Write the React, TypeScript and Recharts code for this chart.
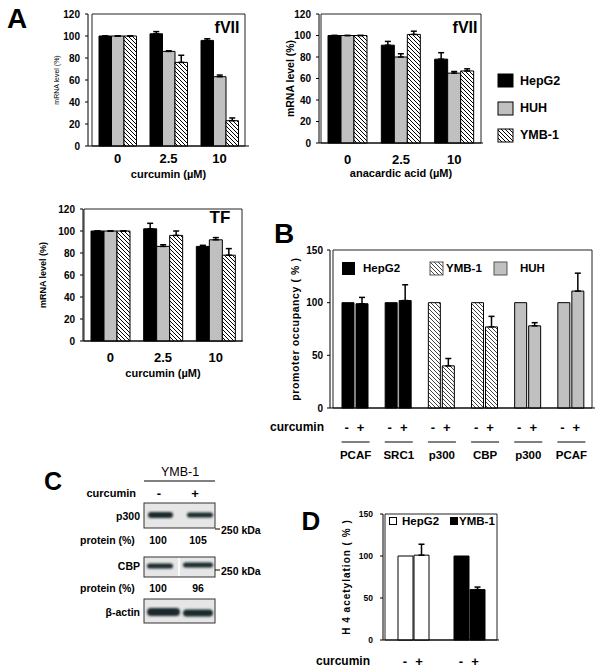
import { Bar, BarChart, Cell, ErrorBar, ReferenceArea, XAxis, YAxis } from "recharts"

const FONT = '"Liberation Sans", Arial, Helvetica, sans-serif'
const GRAY = "#c0c0c0"

// ---- Panel A: mRNA level (%) by dose, three cell lines
const DOSES = ["0", "2.5", "10"]
const CELL_LINES = ["HepG2", "HUH", "YMB-1"]

const FVII_CUR_HEPG2 = [100, 102, 96]
const FVII_CUR_HEPG2_ERR = [0, 2, 1.5]
const FVII_CUR_HUH = [100, 86, 63]
const FVII_CUR_HUH_ERR = [0, 0.5, 1.5]
const FVII_CUR_YMB = [100, 76, 23]
const FVII_CUR_YMB_ERR = [0, 6.5, 2.5]

const FVII_ANA_HEPG2 = [100, 91, 78]
const FVII_ANA_HEPG2_ERR = [0, 3.5, 6]
const FVII_ANA_HUH = [100, 80, 65]
const FVII_ANA_HUH_ERR = [0, 3, 1.5]
const FVII_ANA_YMB = [100, 101, 67]
const FVII_ANA_YMB_ERR = [0, 3, 2]

const TF_CUR_HEPG2 = [100, 102, 86]
const TF_CUR_HEPG2_ERR = [0, 5, 1]
const TF_CUR_HUH = [100, 86, 92]
const TF_CUR_HUH_ERR = [0, 1.5, 2]
const TF_CUR_YMB = [100, 96, 78]
const TF_CUR_YMB_ERR = [0, 4, 6]

const MRNA_TICKS = [0, 20, 40, 60, 80, 100, 120]

// ---- Panel B: promoter occupancy (%)
const B_TARGETS = ["PCAF", "SRC1", "p300", "CBP", "p300", "PCAF"]
const B_CELL = ["HepG2", "HepG2", "YMB-1", "YMB-1", "HUH", "HUH"]
const B_MINUS = [100, 100, 100, 100, 100, 100]
const B_PLUS = [99, 102, 40, 77, 78, 111]
const B_PLUS_ERR = [6, 15, 7, 10, 3, 17]

// ---- Panel D: H4 acetylation (%)
const D_CELLS = ["HepG2", "YMB-1"]
const D_MINUS = [100, 100]
const D_PLUS = [101, 60]
const D_PLUS_ERR = [13, 3]

const OCC_TICKS = [0, 50, 100, 150]

// ---- Panel C: western blot read-outs
const BLOT_P300 = ["100", "105"]
const BLOT_CBP = ["100", "96"]

function doseRows(
  hep: number[], hepErr: number[],
  huh: number[], huhErr: number[],
  ymb: number[], ymbErr: number[],
) {
  return DOSES.map((dose, i) => ({
    dose,
    hep: hep[i], hepErr: [0, hepErr[i]],
    huh: huh[i], huhErr: [0, huhErr[i]],
    ymb: ymb[i], ymbErr: [0, ymbErr[i]],
  }))
}

const fviiCurcumin = doseRows(FVII_CUR_HEPG2, FVII_CUR_HEPG2_ERR, FVII_CUR_HUH, FVII_CUR_HUH_ERR, FVII_CUR_YMB, FVII_CUR_YMB_ERR)
const fviiAnacardic = doseRows(FVII_ANA_HEPG2, FVII_ANA_HEPG2_ERR, FVII_ANA_HUH, FVII_ANA_HUH_ERR, FVII_ANA_YMB, FVII_ANA_YMB_ERR)
const tfCurcumin = doseRows(TF_CUR_HEPG2, TF_CUR_HEPG2_ERR, TF_CUR_HUH, TF_CUR_HUH_ERR, TF_CUR_YMB, TF_CUR_YMB_ERR)

const occupancy = B_TARGETS.map((target, i) => ({
  target, cell: B_CELL[i], minus: B_MINUS[i], plus: B_PLUS[i], plusErr: [0, B_PLUS_ERR[i]],
}))

const acetylation = D_CELLS.map((cell, i) => ({
  cell, minus: D_MINUS[i], plus: D_PLUS[i], plusErr: [0, D_PLUS_ERR[i]],
}))

function Hatch({ id, color }: { id: string; color: string }) {
  return (
    <pattern id={id} width={4} height={4} patternUnits="userSpaceOnUse">
      <rect width={4} height={4} fill="#fff" />
      <path d="M-1,-1 L5,5 M-1,3 L1,5 M3,-1 L5,1" stroke={color} strokeWidth={1} />
    </pattern>
  )
}

const bold = (size: number, extra: Record<string, unknown> = {}) => ({
  fill: "#000", fontSize: size, fontWeight: 700, fontFamily: FONT, ...extra,
})

type DoseProps = {
  id: string
  data: ReturnType<typeof doseRows>
  left: number
  top: number
  width: number
  height: number
  axisWidth: number
  right: number
  axisHeight: number
  pad: number
  barSize: number
  tickGap: number
  xLabel: string
  xLabelOffset: number
  yLabel: string
  yLabelSize: number
  yLabelOffset: number
  yLabelBold: boolean
}

function DosePanel(p: DoseProps) {
  const hatch = `hatch-${p.id}`
  return (
    <div style={{ position: "absolute", left: p.left, top: p.top }}>
      <BarChart
        width={p.width}
        height={p.height}
        data={p.data}
        margin={{ top: 14, right: p.right, bottom: 0, left: 0 }}
        barGap={0}
        barSize={p.barSize}
      >
        <defs>
          <Hatch id={hatch} color="#000" />
        </defs>
        <XAxis
          dataKey="dose"
          height={p.axisHeight}
          padding={{ left: p.pad, right: p.pad }}
          tickLine={false}
          tickSize={0}
          tickMargin={p.tickGap}
          axisLine={{ stroke: "#000" }}
          tick={bold(13)}
          label={{ value: p.xLabel, position: "insideBottom", offset: p.xLabelOffset, style: bold(11, { textAnchor: "middle" }) }}
        />
        <YAxis
          width={p.axisWidth}
          domain={[0, 120]}
          ticks={MRNA_TICKS}
          interval={0}
          tickSize={3}
          tickMargin={5}
          axisLine={{ stroke: "#000" }}
          tickLine={{ stroke: "#000" }}
          tick={bold(10)}
          label={{
            value: p.yLabel,
            angle: -90,
            position: "insideLeft",
            offset: p.yLabelOffset,
            style: { textAnchor: "middle", fill: "#000", fontSize: p.yLabelSize, fontWeight: p.yLabelBold ? 700 : 400, fontFamily: FONT },
          }}
        />
        <ReferenceArea y1={0} y2={120} fill="none" stroke="#222" strokeWidth={1} ifOverflow="visible" />
        <Bar dataKey="hep" name={CELL_LINES[0]} fill="#000" stroke="#000" isAnimationActive={false}>
          <ErrorBar dataKey="hepErr" width={3} stroke="#000" direction="y" />
        </Bar>
        <Bar dataKey="huh" name={CELL_LINES[1]} fill={GRAY} stroke="#000" isAnimationActive={false}>
          <ErrorBar dataKey="huhErr" width={3} stroke="#000" direction="y" />
        </Bar>
        <Bar dataKey="ymb" name={CELL_LINES[2]} fill={`url(#${hatch})`} stroke="#000" isAnimationActive={false}>
          <ErrorBar dataKey="ymbErr" width={3} stroke="#000" direction="y" />
        </Bar>
      </BarChart>
    </div>
  )
}

function TreatTick({ x, y, payload, withName }: { x?: number; y?: number; payload?: { value: string }; withName: boolean }) {
  const cx = x ?? 0
  const cy = y ?? 0
  return (
    <g fontFamily={FONT} fontWeight={700} fill="#000">
      <text x={cx - 8} y={cy + 19} fontSize={13} textAnchor="middle" dominantBaseline="central">-</text>
      <text x={cx + 6} y={cy + 19} fontSize={13} textAnchor="middle" dominantBaseline="central">+</text>
      {withName ? (
        <>
          <line x1={cx - 13} x2={cx + 15} y1={cy + 34} y2={cy + 34} stroke="#000" strokeWidth={1} />
          <text x={cx + 1} y={cy + 47} fontSize={11.5} textAnchor="middle" dominantBaseline="central">
            {payload?.value}
          </text>
        </>
      ) : null}
    </g>
  )
}

const B_FILL: Record<string, string> = { HepG2: "#000", "YMB-1": "url(#hatch-b)", HUH: GRAY }
const D_FILL: Record<string, string> = { HepG2: "#fff", "YMB-1": "#000" }

function OccupancyPanel() {
  return (
    <div style={{ position: "absolute", left: 260, top: 240 }}>
      <BarChart width={340} height={230} data={occupancy} margin={{ top: 10, right: 5, bottom: 0, left: 0 }} barGap={2} barSize={12}>
        <defs>
          <Hatch id="hatch-b" color="#444" />
        </defs>
        <XAxis
          dataKey="target"
          height={62}
          padding={{ left: 3, right: 3 }}
          tickLine={false}
          tickSize={0}
          tickMargin={0}
          interval={0}
          axisLine={{ stroke: "#000" }}
          tick={(props: any) => <TreatTick {...props} withName />}
        />
        <YAxis
          width={70}
          domain={[0, 150]}
          ticks={OCC_TICKS}
          interval={0}
          tickSize={3}
          tickMargin={4}
          axisLine={{ stroke: "#000" }}
          tickLine={{ stroke: "#000" }}
          tick={bold(10)}
          label={{
            value: "promoter occupancy ( % )",
            angle: -90,
            position: "insideLeft",
            offset: 35,
            style: { textAnchor: "middle", fill: "#000", fontSize: 10.5, fontWeight: 700, fontFamily: FONT, letterSpacing: 0.6 },
          }}
        />
        <ReferenceArea y1={0} y2={150} fill="none" stroke="#222" strokeWidth={1} ifOverflow="visible" />
        <Bar dataKey="minus" stroke="#000" isAnimationActive={false}>
          {occupancy.map((row, i) => (
            <Cell key={i} fill={B_FILL[row.cell]} />
          ))}
        </Bar>
        <Bar dataKey="plus" stroke="#000" isAnimationActive={false}>
          {occupancy.map((row, i) => (
            <Cell key={i} fill={B_FILL[row.cell]} />
          ))}
          <ErrorBar dataKey="plusErr" width={3} stroke="#000" direction="y" />
        </Bar>
      </BarChart>
    </div>
  )
}

function AcetylationPanel() {
  return (
    <div style={{ position: "absolute", left: 300, top: 500 }}>
      <BarChart width={205} height={168} data={acetylation} margin={{ top: 14, right: 6, bottom: 0, left: 0 }} barGap={1} barSize={15}>
        <XAxis
          dataKey="cell"
          height={28}
          padding={{ left: 2, right: 2 }}
          tickLine={false}
          tickSize={0}
          tickMargin={2}
          interval={0}
          axisLine={{ stroke: "#000" }}
          tick={(props: any) => <TreatTick {...props} withName={false} />}
        />
        <YAxis
          width={83}
          domain={[0, 150]}
          ticks={OCC_TICKS}
          interval={0}
          tickSize={3}
          tickMargin={7}
          axisLine={{ stroke: "#000" }}
          tickLine={{ stroke: "#000" }}
          tick={bold(8.5)}
          label={{
            value: "H 4 acetylation ( % )",
            angle: -90,
            position: "insideLeft",
            offset: 46,
            style: { textAnchor: "middle", fill: "#000", fontSize: 10, fontWeight: 700, fontFamily: FONT, letterSpacing: 1 },
          }}
        />
        <ReferenceArea y1={0} y2={150} fill="none" stroke="#222" strokeWidth={1} ifOverflow="visible" />
        <Bar dataKey="minus" stroke="#000" isAnimationActive={false}>
          {acetylation.map((row, i) => (
            <Cell key={i} fill={D_FILL[row.cell]} />
          ))}
        </Bar>
        <Bar dataKey="plus" stroke="#000" isAnimationActive={false}>
          {acetylation.map((row, i) => (
            <Cell key={i} fill={D_FILL[row.cell]} />
          ))}
          <ErrorBar dataKey="plusErr" width={3} stroke="#000" direction="y" />
        </Bar>
      </BarChart>
    </div>
  )
}

function T({ x, y, size = 11, anchor = "middle", weight = 700, children }: { x: number; y: number; size?: number; anchor?: string; weight?: number; children: React.ReactNode }) {
  return (
    <text x={x} y={y} fontSize={size} fontWeight={weight} textAnchor={anchor as any} dominantBaseline="central" fontFamily={FONT} fill="#000">
      {children}
    </text>
  )
}

function Band({ x, y, w, h }: { x: number; y: number; w: number; h: number }) {
  return <rect x={x} y={y - h / 2} width={w} height={h} rx={h / 2} fill="#1d2c2e" filter="url(#blur)" />
}

// Blot panel C, plus panel letters, titles and legends
function Overlay() {
  return (
    <svg width={600} height={668} style={{ position: "absolute", left: 0, top: 0, pointerEvents: "none" }}>
      <defs>
        <Hatch id="hatch-legend" color="#000" />
        <Hatch id="hatch-legend-b" color="#444" />
        <filter id="blur" x="-20%" y="-50%" width="140%" height="200%">
          <feGaussianBlur stdDeviation={0.9} />
        </filter>
      </defs>

      <T x={17} y={18} size={28}>A</T>
      <T x={227} y={27} size={16}>fVII</T>
      <T x={465} y={27} size={16}>fVII</T>
      <T x={220} y={217} size={17}>TF</T>

      {/* panel A legend */}
      <rect x={498} y={74} width={15} height={13} fill="#000" stroke="#000" />
      <rect x={498} y={102} width={15} height={13} fill={GRAY} stroke="#000" />
      <rect x={498} y={129} width={15} height={13} fill="url(#hatch-legend)" stroke="#000" />
      <T x={520} y={81} size={12.5} anchor="start">{CELL_LINES[0]}</T>
      <T x={520} y={108} size={12.5} anchor="start">{CELL_LINES[1]}</T>
      <T x={520} y={135} size={12.5} anchor="start">{CELL_LINES[2]}</T>

      {/* panel B */}
      <T x={284} y={233} size={28}>B</T>
      <rect x={342} y={262} width={13} height={13} fill="#000" />
      <T x={363} y={268} size={11.5} anchor="start">HepG2</T>
      <rect x={430} y={262} width={13} height={13} fill="url(#hatch-legend-b)" stroke="#555" />
      <T x={446} y={268} size={11.5} anchor="start">YMB-1</T>
      <rect x={494} y={262} width={13} height={13} fill={GRAY} stroke="#555" />
      <T x={520} y={268} size={11.5} anchor="start">HUH</T>
      <T x={324} y={427} size={12} anchor="end">curcumin</T>

      {/* panel C */}
      <T x={53} y={481} size={25}>C</T>
      <T x={180} y={472} size={12.5} weight={400}>YMB-1</T>
      <line x1={144} x2={215} y1={481} y2={481} stroke="#000" />
      <T x={136} y={493} size={11} anchor="end">curcumin</T>
      <T x={159} y={493} size={13}>-</T>
      <T x={195} y={493} size={13}>+</T>

      <rect x={144} y={503} width={71} height={25} fill="#e6e6e6" stroke="#333" />
      <Band x={148} y={515} w={25} h={6} />
      <Band x={187} y={515} w={26} h={5} />
      <T x={140} y={516} size={10.5} anchor="end">p300</T>
      <line x1={215} x2={220} y1={529} y2={529} stroke="#000" />
      <T x={221} y={530} size={10.5} anchor="start">250 kDa</T>
      <T x={80} y={540} size={10.5} anchor="start">protein (%)</T>
      <T x={158} y={540} size={10.5}>{BLOT_P300[0]}</T>
      <T x={198} y={540} size={10.5}>{BLOT_P300[1]}</T>

      <rect x={144} y={557} width={71} height={20} fill="#e6e6e6" stroke="#333" />
      <line x1={179} x2={179} y1={558} y2={576} stroke="#fafafa" strokeWidth={2} />
      <Band x={147} y={566} w={26} h={5} />
      <Band x={183} y={565} w={30} h={5} />
      <T x={140} y={566} size={10.5} anchor="end">CBP</T>
      <line x1={215} x2={220} y1={570} y2={570} stroke="#000" />
      <T x={221} y={571} size={10.5} anchor="start">250 kDa</T>
      <T x={80} y={588} size={10.5} anchor="start">protein (%)</T>
      <T x={158} y={588} size={10.5}>{BLOT_CBP[0]}</T>
      <T x={198} y={588} size={10.5}>{BLOT_CBP[1]}</T>

      <rect x={144} y={599} width={71} height={24} fill="#e6e6e6" stroke="#333" />
      <Band x={147} y={612} w={33} h={8} />
      <Band x={183} y={613} w={30} h={7} />
      <T x={140} y={612} size={10.5} anchor="end">β-actin</T>

      {/* panel D */}
      <T x={311} y={521} size={26}>D</T>
      <rect x={389.5} y={517.5} width={7} height={7} fill="#fff" stroke="#000" />
      <T x={402} y={521} size={11.5} anchor="start">HepG2</T>
      <rect x={450} y={517} width={8} height={8} fill="#000" />
      <T x={459} y={521} size={11.5} anchor="start">YMB-1</T>
      <T x={370} y={661} size={12} anchor="end">curcumin</T>
    </svg>
  )
}

export default function App() {
  return (
    <div style={{ position: "absolute", left: 0, top: 0, width: 600, height: 668, background: "#fff", fontFamily: FONT }}>
      <DosePanel
        id="a1" data={fviiCurcumin} left={0} top={0} width={260} height={185}
        axisWidth={88} right={11} axisHeight={39} pad={4} barSize={12.5} tickGap={8}
        xLabel="curcumin (µM)" xLabelOffset={7}
        yLabel="mRNA level (%)" yLabelSize={7} yLabelOffset={57} yLabelBold={false}
      />
      <DosePanel
        id="a2" data={fviiAnacardic} left={270} top={0} width={225} height={185}
        axisWidth={49} right={12} axisHeight={42} pad={2} barSize={13} tickGap={12}
        xLabel="anacardic acid (µM)" xLabelOffset={8}
        yLabel="mRNA level (%)" yLabelSize={10.5} yLabelOffset={20} yLabelBold
      />
      <DosePanel
        id="a3" data={tfCurcumin} left={0} top={195} width={255} height={190}
        axisWidth={83} right={12} axisHeight={44} pad={1} barSize={13} tickGap={12}
        xLabel="curcumin (µM)" xLabelOffset={8}
        yLabel="mRNA level (%)" yLabelSize={9} yLabelOffset={43} yLabelBold
      />
      <OccupancyPanel />
      <AcetylationPanel />
      <Overlay />
    </div>
  )
}
